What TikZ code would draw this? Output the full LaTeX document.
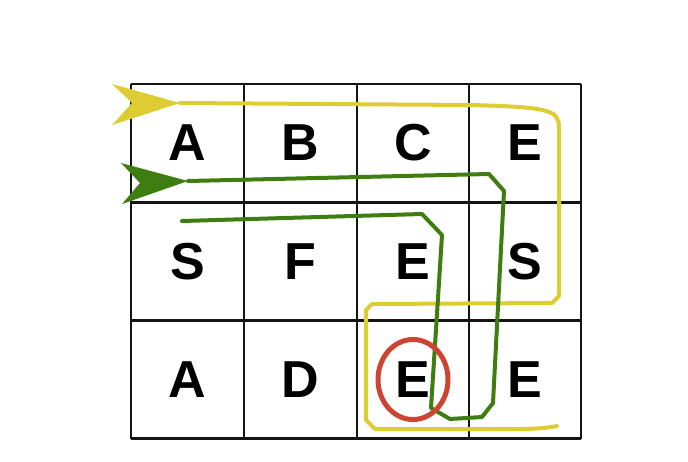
\documentclass[tikz,border=0pt]{standalone}
\usepackage{fontspec}
\setmainfont{Liberation Sans}
\definecolor{pathyellow}{RGB}{221,205,50}
\definecolor{pathgreen}{RGB}{62,125,16}
\definecolor{markred}{RGB}{204,68,50}
\begin{document}
\begin{tikzpicture}[x=1pt,y=-1pt,
  gridline/.style={draw=black!92,line width=2.6pt},
  letter/.style={font=\fontsize{52}{52}\selectfont\bfseries,inner sep=0pt,anchor=center},
  yellowpath/.style={draw=pathyellow,line width=4pt,line join=round,line cap=round},
  greenpath/.style={draw=pathgreen,line width=4pt,line join=round,line cap=round},
  headyellow/.style={fill=pathyellow,draw=none},
  headgreen/.style={fill=pathgreen,draw=none},
  ring/.style={draw=markred,line width=5pt}]
\useasboundingbox (0,0) rectangle (688,461);
% grid
\foreach \x in {131,244,357,469,581} \draw[gridline] (\x,84) -- (\x,438.5);
\foreach \y in {84,202.5,320.5,438.5} \draw[gridline] (131,\y) -- (581,\y);
% letters
\node[letter] (c11) at (187.5,143) {A};
\node[letter] (c12) at (300.5,143) {B};
\node[letter] (c13) at (413,143) {C};
\node[letter] (c14) at (525,143) {E};
\node[letter] (c21) at (187.5,261.5) {S};
\node[letter] (c22) at (300.5,261.5) {F};
\node[letter] (c23) at (413,261.5) {E};
\node[letter] (c24) at (525,261.5) {S};
\node[letter] (c31) at (187.5,379.5) {A};
\node[letter] (c32) at (300.5,379.5) {D};
\node[letter] (c33) at (413,379.5) {E};
\node[letter] (c34) at (525,379.5) {E};
% yellow path
\coordinate (ystart) at (180,103);
\coordinate (yend) at (557,426);
\draw[yellowpath] (ystart) -- (470,105) .. controls (550,107) and (559,110) .. (559,128)
  -- (559,296) -- (552,303) -- (372,304) -- (366,310) -- (366,420) -- (375,429)
  -- (515,429) .. controls (535,429) and (548,428) .. (yend);
\fill[headyellow] (112,84) -- (ystart) -- (112,125) -- (132,103) -- cycle;
% green path
\coordinate (gstart) at (188,181);
\coordinate (gend) at (182,221);
\draw[greenpath] (gstart) -- (489,174) -- (504,191) -- (493,403) -- (482,417)
  -- (450,419) -- (431,408) -- (442,235) -- (422,214) -- (gend);
\fill[headgreen] (121,163) -- (gstart) -- (122,204) -- (140,183) -- cycle;
% red ring
\draw[ring] (c33.center) ellipse [x radius=35, y radius=40];
\end{tikzpicture}
\end{document}
